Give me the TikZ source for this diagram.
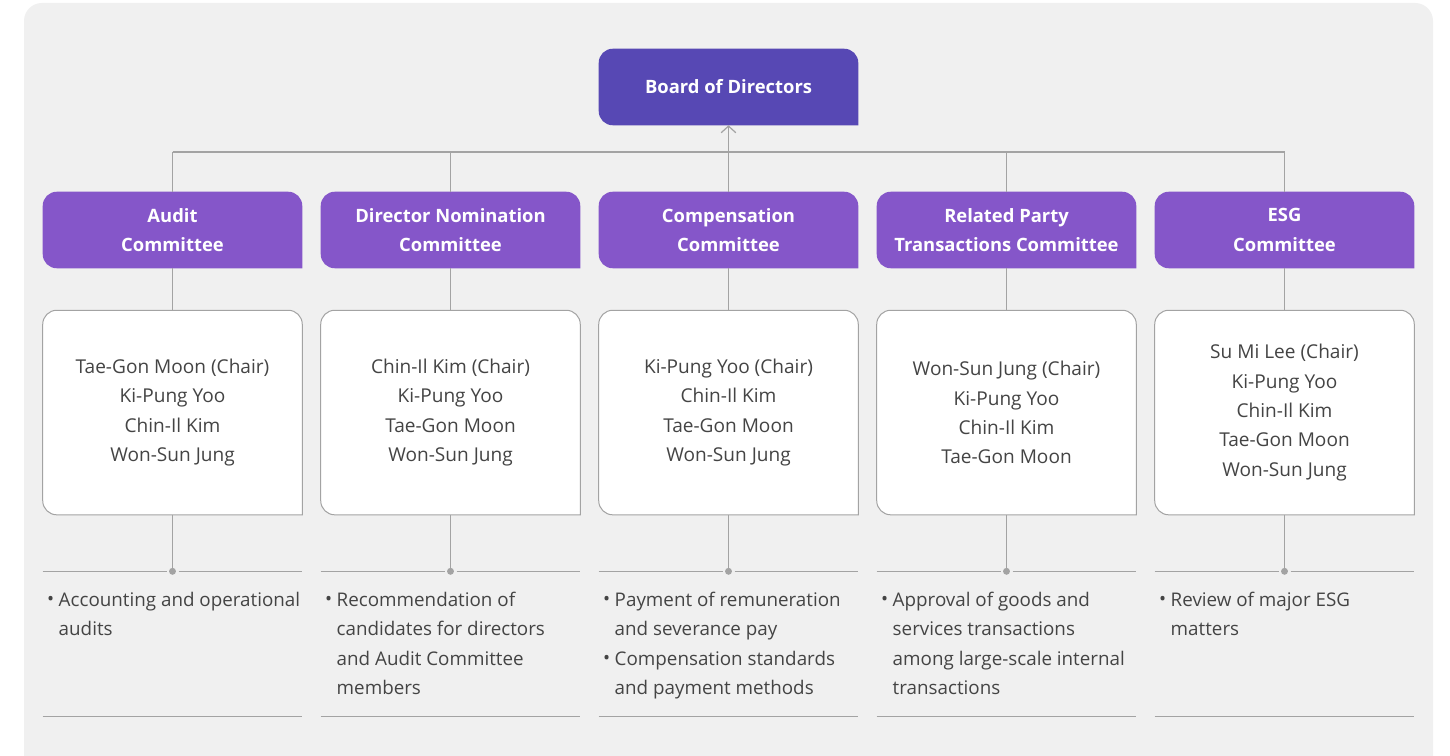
\documentclass[tikz,border=0pt]{standalone}
\usepackage{fontspec}
\setmainfont{Open Sans}
\usetikzlibrary{arrows.meta,positioning,calc,backgrounds}
\definecolor{bgc}{HTML}{F0F0F0}
\definecolor{boardc}{HTML}{5748B4}
\definecolor{headc}{HTML}{8556C9}
\definecolor{linec}{HTML}{A3A3A3}
\definecolor{textc}{HTML}{444444}
\tikzset{
  head/.style={text=white, font=\bfseries\fontsize{13.8}{22}\selectfont,
    minimum width=194.25pt, minimum height=57pt, align=center, inner sep=0pt},
  members/.style={text=textc, font=\fontsize{14.3}{22}\selectfont, minimum width=194.25pt,
    minimum height=153pt, align=center, inner sep=0pt},
  duty/.style={anchor=north west, text=textc, font=\fontsize{14.1}{22}\selectfont,
    inner sep=0pt, align=left},
  conn/.style={draw=linec, line width=0.9pt},
}
\newcommand{\bul}{\raisebox{0.1ex}{\textbullet}}
\begin{document}
\begin{tikzpicture}[x=0.75pt, y=-0.75pt]
    \useasboundingbox (0,0) rectangle (1450,756);

    % board and committees
    \node[head] (board) at (728.5,87) {Board of Directors};
    \node[head] (audit) at (172.5,230) {Audit\\Committee};
    \node[head] (nomin) at (450.5,230) {Director Nomination\\Committee};
    \node[head] (comp) at (728.5,230) {Compensation\\Committee};
    \node[head] (rpt) at (1006.5,230) {Related Party\\Transactions Committee};
    \node[head] (esg) at (1284.5,230) {ESG\\Committee};

    % members
    \node[members, below=31.5pt of audit] (audit-m) {Tae-Gon Moon (Chair)\\Ki-Pung Yoo\\Chin-Il Kim\\Won-Sun Jung};
    \node[members, below=31.5pt of nomin] (nomin-m) {Chin-Il Kim (Chair)\\Ki-Pung Yoo\\Tae-Gon Moon\\Won-Sun Jung};
    \node[members, below=31.5pt of comp] (comp-m) {Ki-Pung Yoo (Chair)\\Chin-Il Kim\\Tae-Gon Moon\\Won-Sun Jung};
    \node[members, below=31.5pt of rpt] (rpt-m) {Won-Sun Jung (Chair)\\Ki-Pung Yoo\\Chin-Il Kim\\Tae-Gon Moon};
    \node[members, below=31.5pt of esg] (esg-m) {Su Mi Lee (Chair)\\Ki-Pung Yoo\\Chin-Il Kim\\Tae-Gon Moon\\Won-Sun Jung};

    % duties
    \node[duty] (audit-d) at ($(audit-m.south west)+(4,71)$) {\begin{tabular}{@{}l@{\hspace{3.5pt}}l@{}}
      \bul & Accounting and operational\\ & audits\end{tabular}};
    \node[duty] (nomin-d) at ($(nomin-m.south west)+(4,71)$) {\begin{tabular}{@{}l@{\hspace{3.5pt}}l@{}}
      \bul & Recommendation of\\ & candidates for directors\\ & and Audit Committee\\ & members\end{tabular}};
    \node[duty] (comp-d) at ($(comp-m.south west)+(4,71)$) {\begin{tabular}{@{}l@{\hspace{3.5pt}}l@{}}
      \bul & Payment of remuneration\\ & and severance pay\\
      \bul & Compensation standards\\ & and payment methods\end{tabular}};
    \node[duty] (rpt-d) at ($(rpt-m.south west)+(4,71)$) {\begin{tabular}{@{}l@{\hspace{3.5pt}}l@{}}
      \bul & Approval of goods and\\ & services transactions\\ & among large-scale internal\\ & transactions\end{tabular}};
    \node[duty] (esg-d) at ($(esg-m.south west)+(4,71)$) {\begin{tabular}{@{}l@{\hspace{3.5pt}}l@{}}
      \bul & Review of major ESG\\ & matters\end{tabular}};

    % boxes with three round corners
    \begin{scope}[on background layer]
      \fill[white] (0,0) rectangle (1450,756);
      \fill[bgc, rounded corners=13.5pt] (24,3) rectangle (1433,790);
      \fill[boardc] (board.south) [rounded corners=10.5pt] -- (board.south west) -- (board.north west)
        -- (board.north east) [sharp corners] -- (board.south east) -- cycle;
      \foreach \c in {audit,nomin,comp,rpt,esg}{
        \fill[headc] (\c.south) [rounded corners=10.5pt] -- (\c.south west) -- (\c.north west)
          -- (\c.north east) [sharp corners] -- (\c.south east) -- cycle;
        \filldraw[fill=white, draw=linec, line width=0.75pt] (\c-m.south) [rounded corners=10.5pt]
          -- (\c-m.south west) -- (\c-m.north west) -- (\c-m.north east) [sharp corners]
          -- (\c-m.south east) -- cycle;
      }
    \end{scope}

    % connectors
    \coordinate (bus) at (0,152);
    \draw[conn] (audit.north |- bus) -- (esg.north |- bus);
    \draw[conn, -{Straight Barb[length=5pt, width=11pt]}] (board.south |- bus) -- (board.south);
    \foreach \c in {audit,nomin,comp,rpt,esg}{
      \coordinate (\c-dot) at ($(\c-m.south)+(0,56.5)$);
      \draw[conn] (\c.north |- bus) -- (\c.north);
      \draw[conn] (\c.south) -- (\c-m.north);
      \draw[conn] (\c-m.south) -- (\c-dot);
      \fill[linec] (\c-dot) circle (2.6pt);
      \draw[conn] (\c-dot -| \c-m.west) -- ($(\c-dot)+(-6,0)$);
      \draw[conn] ($(\c-dot)+(6,0)$) -- (\c-dot -| \c-m.east);
      \draw[conn] ($(\c-dot -| \c-m.west)+(0,145)$) -- ($(\c-dot -| \c-m.east)+(0,145)$);
    }
\end{tikzpicture}
\end{document}
